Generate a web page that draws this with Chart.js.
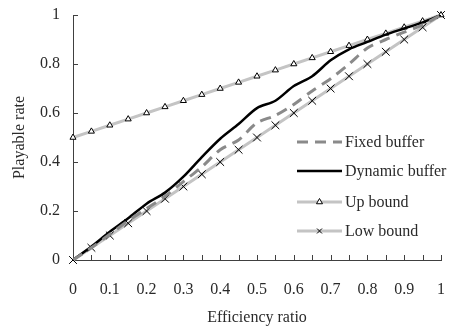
<!DOCTYPE html>
<html>
<head>
<meta charset="utf-8">
<script src="https://cdn.jsdelivr.net/npm/chart.js@4/dist/chart.umd.min.js"></script>
<style>
  html, body { margin: 0; padding: 0; background: #fff; }
  #wrap { width: 451px; height: 327px; }
</style>
</head>
<body>
<div id="wrap"><canvas id="chart" width="451" height="327"></canvas></div>
<script>
const ratio = [0, 0.05, 0.1, 0.15, 0.2, 0.25, 0.3, 0.35, 0.4, 0.45, 0.5,
               0.55, 0.6, 0.65, 0.7, 0.75, 0.8, 0.85, 0.9, 0.95, 1];
const fixedBuffer = [0, 0.05, 0.105, 0.16, 0.21, 0.26, 0.32, 0.38, 0.45, 0.49, 0.56,
                     0.59, 0.635, 0.69, 0.74, 0.8, 0.865, 0.9, 0.93, 0.96, 1];
const dynamicBuffer = [0, 0.055, 0.115, 0.17, 0.23, 0.275, 0.34, 0.42, 0.495, 0.555, 0.62,
                       0.65, 0.71, 0.75, 0.815, 0.86, 0.89, 0.92, 0.945, 0.97, 1];
const upBound = [0.5, 0.525, 0.55, 0.575, 0.6, 0.625, 0.65, 0.675, 0.7, 0.725, 0.75,
                 0.775, 0.8, 0.825, 0.85, 0.875, 0.9, 0.925, 0.95, 0.975, 1];
const lowBound = [0, 0.05, 0.1, 0.15, 0.2, 0.25, 0.3, 0.35, 0.4, 0.45, 0.5,
                  0.55, 0.6, 0.65, 0.7, 0.75, 0.8, 0.85, 0.9, 0.95, 1];
const xTickLabels = ['0', '0.1', '0.2', '0.3', '0.4', '0.5', '0.6', '0.7', '0.8', '0.9', '1'];
const yTickLabels = ['0', '0.2', '0.4', '0.6', '0.8', '1'];

const FONT = "'Liberation Serif', 'DejaVu Serif', serif";
const axisColor = '#404040';
const textColor = '#2a2a2a';

function pts(ys) {
    return ratio.map((x, i) => ({x: x, y: ys[i]}));
}

// tick marks pointing into the plot, like the spreadsheet original
const innerTicks = {
    id: 'innerTicks',
    beforeDatasetsDraw(chart) {
        const ctx = chart.ctx;
        const xs = chart.scales.x, ys = chart.scales.y;
        const area = chart.chartArea;
        ctx.save();
        ctx.strokeStyle = axisColor;
        ctx.lineWidth = 1;
        ctx.beginPath();
        xs.ticks.forEach(t => {
            const px = Math.round(xs.getPixelForValue(t.value)) + 0.5;
            ctx.moveTo(px, area.bottom);
            ctx.lineTo(px, area.bottom - 5);
        });
        ys.ticks.forEach(t => {
            const py = Math.round(ys.getPixelForValue(t.value)) + 0.5;
            ctx.moveTo(area.left, py);
            ctx.lineTo(area.left + 5, py);
        });
        ctx.stroke();
        ctx.restore();
    }
};

// legend drawn inside the plot, lower right
const innerLegend = {
    id: 'innerLegend',
    afterDatasetsDraw(chart) {
        const ctx = chart.ctx;
        const rows = [142, 171, 202, 231];
        const x0 = 297, x1 = 342;
        ctx.save();
        chart.data.datasets.forEach((ds, i) => {
            const y = rows[i];
            ctx.strokeStyle = ds.borderColor;
            ctx.lineWidth = ds.borderWidth;
            ctx.setLineDash(ds.borderDash || []);
            ctx.beginPath();
            ctx.moveTo(x0, y);
            ctx.lineTo(x1, y);
            ctx.stroke();
            ctx.setLineDash([]);
            if (ds.pointRadius > 0) {
                ctx.fillStyle = ds.pointBackgroundColor;
                ctx.strokeStyle = ds.pointBorderColor;
                ctx.lineWidth = ds.pointBorderWidth;
                Chart.helpers.drawPoint(ctx, {
                    pointStyle: ds.pointStyle,
                    radius: 3.5,
                    borderWidth: ds.pointBorderWidth
                }, (x0 + x1) / 2, y);
            }
            ctx.fillStyle = textColor;
            ctx.font = '16px ' + FONT;
            ctx.textBaseline = 'middle';
            ctx.textAlign = 'left';
            ctx.fillText(ds.label, x1 + 3, y + 1);
        });
        ctx.restore();
    }
};

new Chart(document.getElementById('chart'), {
    type: 'line',
    data: {
        datasets: [
            {
                label: 'Fixed buffer',
                data: pts(fixedBuffer),
                borderColor: '#8a8a8a',
                borderWidth: 3,
                borderDash: [11, 7],
                pointRadius: 0,
                tension: 0.3
            },
            {
                label: 'Dynamic buffer',
                data: pts(dynamicBuffer),
                borderColor: '#000000',
                borderWidth: 2.5,
                pointRadius: 0,
                tension: 0.3
            },
            {
                label: 'Up bound',
                data: pts(upBound),
                borderColor: '#c4c4c4',
                borderWidth: 3,
                pointStyle: 'triangle',
                pointRadius: 3.5,
                pointBorderWidth: 1,
                pointBorderColor: '#000000',
                pointBackgroundColor: '#ffffff',
                tension: 0,
                clip: false
            },
            {
                label: 'Low bound',
                data: pts(lowBound),
                borderColor: '#c4c4c4',
                borderWidth: 3,
                pointStyle: 'crossRot',
                pointRadius: 5.5,
                pointBorderWidth: 1,
                pointBorderColor: '#000000',
                pointBackgroundColor: '#000000',
                tension: 0,
                clip: false
            }
        ]
    },
    options: {
        responsive: false,
        animation: false,
        layout: { padding: { top: 15, right: 10, left: 10, bottom: 0 } },
        plugins: {
            legend: { display: false },
            tooltip: { enabled: false }
        },
        scales: {
            x: {
                type: 'linear',
                min: 0,
                max: 1,
                afterFit(scale) {
                    scale.height = 67;
                    scale.paddingLeft = 0;
                    scale.paddingRight = 0;
                },
                afterBuildTicks(scale) {
                    scale.ticks = ratio.map(v => ({value: v}));
                },
                grid: {
                    drawOnChartArea: false,
                    drawTicks: false
                },
                border: { display: true, color: axisColor, width: 1 },
                ticks: {
                    autoSkip: false,
                    maxRotation: 0,
                    padding: 20,
                    color: textColor,
                    font: { family: FONT, size: 16 },
                    callback(value, index) {
                        return index % 2 === 0 ? xTickLabels[index / 2] : '';
                    }
                },
                title: {
                    display: true,
                    text: 'Efficiency ratio',
                    color: textColor,
                    font: { family: FONT, size: 16 },
                    padding: { top: 8, bottom: 0 }
                }
            },
            y: {
                type: 'linear',
                min: 0,
                max: 1,
                afterFit(scale) {
                    scale.width = 63;
                    scale.paddingTop = 0;
                    scale.paddingBottom = 0;
                },
                afterBuildTicks(scale) {
                    scale.ticks = yTickLabels.map(v => ({value: Number(v)}));
                },
                grid: {
                    drawOnChartArea: false,
                    drawTicks: false
                },
                border: { display: true, color: axisColor, width: 1 },
                ticks: {
                    padding: 13,
                    color: textColor,
                    font: { family: FONT, size: 16 },
                    callback(value, index) { return yTickLabels[index]; }
                },
                title: {
                    display: true,
                    text: 'Playable rate',
                    color: textColor,
                    font: { family: FONT, size: 16 },
                    padding: { top: 0, bottom: 4 }
                }
            }
        }
    },
    plugins: [innerTicks, innerLegend]
});
</script>
</body>
</html>
